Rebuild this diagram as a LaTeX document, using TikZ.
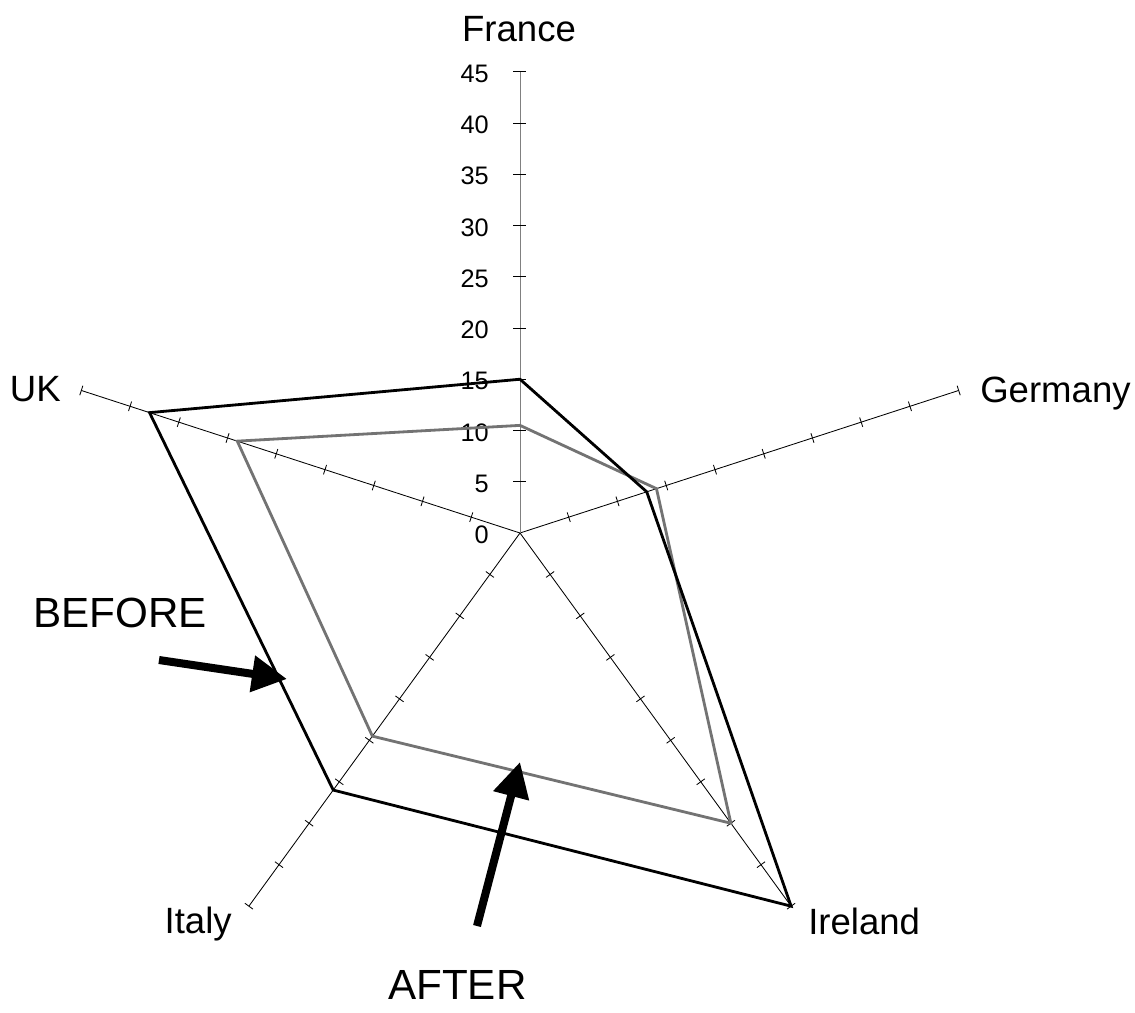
\documentclass[tikz,border=0pt]{standalone}
\usepackage{fontspec}
\setmainfont{Liberation Sans}
\usetikzlibrary{arrows.meta}

\begin{document}
\begin{tikzpicture}[x=0.025cm, y=0.025cm,
	axis/.style={line width=0.6pt, black},
	valaxis/.style={line width=0.6pt, black!50},
	tickmark/.style={line width=0.6pt, black},
	before/.style={line width=2pt, black},
	after/.style={line width=2pt, black!55},
	country/.style={font=\fontsize{26}{30}\selectfont, inner sep=0pt},
	remark/.style={font=\fontsize{30}{34}\selectfont, inner sep=0pt},
	value/.style={font=\fontsize{18}{22}\selectfont, inner sep=0pt, anchor=east},
	pointer/.style={line width=5.7pt, -{Triangle[length=0.875cm, width=0.875cm]}}]

	\def\u{10.25}
	\useasboundingbox (-520,-479) rectangle (615,533);

	%centre of the chart
	\coordinate (O) at (0,0);

	%country axes with a tick every 5
	\foreach \ang/\name in {18/de, -54/ie, -126/it, 162/uk} {
		\draw[axis] (O) -- (\ang:45*\u) coordinate (\name end);
		\foreach \v in {5,10,...,45}
			\draw[tickmark, shift={(\ang:\v*\u)}, rotate=\ang] (0,-5) -- (0,5);
	}

	%value axis (France) with its scale
	\draw[valaxis] (O) -- (0,45*\u) coordinate (frend);
	\foreach \v in {5,10,...,45}
		\draw[tickmark] (-7,\v*\u) -- (6,\v*\u);
	\foreach \v in {0,5,...,45}
		\node[value] (v\v) at (-31,\v*\u-2) {\v};

	%after
	\draw[after] (90:10.5*\u) -- (18:14*\u) -- (-54:35*\u) -- (-126:24.5*\u) -- (162:29*\u) -- cycle;
	%before
	\draw[before] (90:15*\u) -- (18:13*\u) -- (-54:45*\u) -- (-126:31*\u) -- (162:38*\u) -- cycle;

	%country names
	\node[country, anchor=base] (france) at (-1,491) {France};
	\node[country, anchor=base west] (germany) at (460,130) {Germany};
	\node[country, anchor=base west] (ireland) at (288,-401) {Ireland};
	\node[country, anchor=base east] (italy) at (-288,-400) {Italy};
	\node[country, anchor=base east] (uk) at (-459,131) {UK};

	%before / after pointers
	\node[remark, anchor=base west] (beforelbl) at (-487,-94) {BEFORE};
	\node[remark, anchor=base west] (afterlbl) at (-132,-466) {AFTER};
	\coordinate (beforetail) at (-361,-127);
	\coordinate (beforetip) at (-233,-146);
	\coordinate (aftertail) at (-43,-393);
	\coordinate (aftertip) at (0,-229);
	\draw[pointer] (beforetail) -- (beforetip);
	\draw[pointer] (aftertail) -- (aftertip);

\end{tikzpicture}
\end{document}
